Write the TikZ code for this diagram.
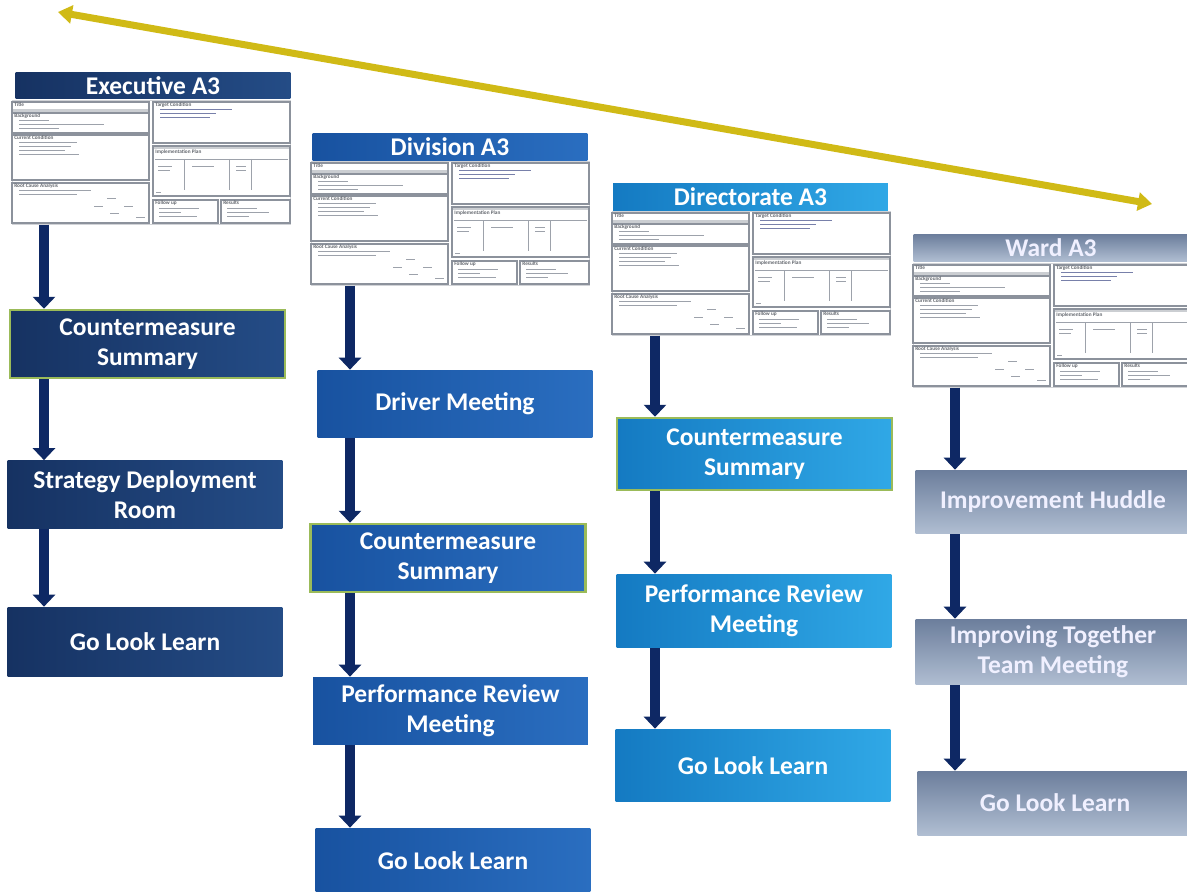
\documentclass[tikz,border=0pt]{standalone}
\usepackage{fontspec}
\setmainfont{Carlito}
\usepackage{tikz}
\usetikzlibrary{arrows.meta}

\definecolor{execblue}{RGB}{22,50,98}
\definecolor{execblue2}{RGB}{36,76,134}
\definecolor{divblue}{RGB}{24,82,160}
\definecolor{divblue2}{RGB}{42,110,192}
\definecolor{dirblue}{RGB}{20,122,194}
\definecolor{dirblue2}{RGB}{48,168,230}
\definecolor{wardgrey}{RGB}{108,126,156}
\definecolor{wardgrey2}{RGB}{176,190,210}
\definecolor{navy}{RGB}{14,40,100}
\definecolor{cmgreen}{RGB}{155,187,89}
\definecolor{spangold}{RGB}{208,186,22}
\definecolor{a3grey}{RGB}{140,146,156}
\definecolor{a3ink}{RGB}{120,128,170}

% A3 thumbnail: #1 = node name, (#2,#3) = top left corner
\newcommand{\athree}[3]{%
  \begin{scope}[shift={(#2,#3)}]
    \node[a3frame, anchor=north west] (#1) at (0,0) {};
    % left column
    \draw[a3panel] (0,2) rectangle (137,13);
    \fill[a3grey!45] (1,9) rectangle (136,12.4);
    \node[a3head] at (2,5) {Title};
    \draw[a3panel] (0,13) rectangle (137,33);
    \node[a3head] at (2,16) {Background};
    \foreach \y/\l in {20/30,24/85,28/40} \draw[a3line] (7,\y) -- ++(\l,0);
    \draw[a3panel] (0,35) rectangle (137,80);
    \node[a3head] at (2,38) {Current Condition};
    \foreach \y/\l in {42/58,46/52,50/46,54/60} \draw[a3line] (7,\y) -- ++(\l,0);
    \draw[a3panel] (0,83) rectangle (137,123);
    \node[a3head] at (2,86) {Root Cause Analysis};
    \foreach \y/\l in {90/72,94/58} \draw[a3line] (7,\y) -- ++(\l,0);
    \foreach \x/\y in {95/98,82/106,112/106,98/113,124/117} \draw[a3line] (\x,\y) -- ++(9,0);
    % right column
    \draw[a3panel] (141,2) rectangle (278,43);
    \node[a3head] at (143,5) {Target Condition};
    \foreach \y/\l in {9/72,13/56,17/50} \draw[a3line, a3ink] (148,\y) -- ++(\l,0);
    \draw[a3panel] (141,46) rectangle (278,96);
    \fill[a3grey!45] (142,47) rectangle (277,49);
    \node[a3head] at (143,52) {Implementation Plan};
    \draw[a3line] (143,59) -- (276,59);
    \foreach \x in {172,217,239} \draw[a3line] (\x,59) -- (\x,90);
    \foreach \x/\l in {146/14,180/22,224/10} \draw[a3line] (\x,66) -- ++(\l,0);
    \foreach \x/\l in {146/12,224/10} \draw[a3line] (\x,70) -- ++(\l,0);
    \draw[a3line] (144,92) -- ++(5,0);
    \draw[a3panel] (141,100) rectangle (206,123);
    \node[a3head] at (143,103) {Follow up};
    \foreach \y/\l in {108/40,112/22,116/38} \draw[a3line] (147,\y) -- ++(\l,0);
    \draw[a3panel] (209,100) rectangle (278,123);
    \node[a3head] at (211,103) {Results};
    \foreach \y/\l in {108/30,112/42,116/22} \draw[a3line] (215,\y) -- ++(\l,0);
  \end{scope}}

\begin{document}
\begin{tikzpicture}[x=0.02cm, y=-0.02cm,
    box/.style={rectangle, inner sep=0pt, minimum width=5.5cm, minimum height=1.36cm,
      align=center, text=white, font=\bfseries\fontsize{14.5}{17}\selectfont},
    headbox/.style={rectangle, inner sep=0pt, minimum width=5.5cm, minimum height=0.54cm,
      text=white, font=\bfseries\fontsize{14.5}{17}\selectfont},
    exec/.style={left color=execblue, right color=execblue2},
    div/.style={left color=divblue, right color=divblue2},
    dir/.style={left color=dirblue, right color=dirblue2},
    ward/.style={top color=wardgrey, bottom color=wardgrey2, text=white!94!blue},
    greenedge/.style={draw=cmgreen, line width=1.4pt},
    flow/.style={draw=navy, line width=0.2cm, -{Triangle[width=0.44cm, length=0.24cm]}},
    span/.style={draw=spangold, line width=0.14cm,
      {Triangle[width=0.36cm, length=0.28cm]}-{Triangle[width=0.36cm, length=0.28cm]}},
    a3frame/.style={rectangle, inner sep=0pt, minimum width=5.56cm, minimum height=2.48cm, draw=a3grey!40, line width=0.3pt},
    a3panel/.style={draw=a3grey, line width=0.7pt},
    a3line/.style={draw=a3grey!85, line width=0.45pt},
    a3head/.style={anchor=west, inner sep=0pt, text=a3grey!70!black, font=\bfseries\fontsize{3}{3}\selectfont}]

  \useasboundingbox[fill=white] (0,0) rectangle (1187,892);

  % Executive
  \node[headbox, exec] (h1) at (153,85.5) {Executive A3};
  \athree{t1}{12}{100}
  \node[box, exec, greenedge] (e1) at (147.5,344) {Countermeasure\\Summary};
  \node[box, exec] (e2) at (145,494.5) {Strategy Deployment\\Room};
  \node[box, exec, minimum height=1.4cm] (e3) at (145,642) {Go Look Learn};

  % Division
  \node[headbox, div] (h2) at (450,147) {Division A3};
  \athree{t2}{311}{161}
  \node[box, div] (d1) at (455,404) {Driver Meeting};
  \node[box, div, greenedge] (d2) at (448,558) {Countermeasure\\Summary};
  \node[box, div] (d3) at (450.5,711) {Performance Review\\Meeting};
  \node[box, div, minimum height=1.3cm] (d4) at (453,860.5) {Go Look Learn};

  % Directorate
  \node[headbox, dir] (h3) at (750.5,197) {Directorate A3};
  \athree{t3}{612}{211}
  \node[box, dir, greenedge, minimum height=1.44cm] (r1) at (754.5,454) {Countermeasure\\Summary};
  \node[box, dir, minimum height=1.48cm] (r2) at (754,611) {Performance Review\\Meeting};
  \node[box, dir, minimum height=1.46cm] (r3) at (753,765.5) {Go Look Learn};

  % Ward
  \node[headbox, ward] (h4) at (1051,248) {Ward A3};
  \athree{t4}{913}{263}
  \node[box, ward, minimum height=1.28cm] (w1) at (1053,502) {Improvement Huddle};
  \node[box, ward, minimum height=1.32cm] (w2) at (1053,652) {Improving Together\\Team Meeting};
  \node[box, ward, minimum height=1.28cm] (w3) at (1055,803) {Go Look Learn};

  % Flow arrows
  \coordinate (c1) at (44,0);
  \coordinate (c2) at (350,0);
  \coordinate (c3) at (655,0);
  \coordinate (c4) at (955,0);
  \draw[flow] (t1.south -| c1) -- (e1.north -| c1);
  \draw[flow] (e1.south -| c1) -- (e2.north -| c1);
  \draw[flow] (e2.south -| c1) -- (e3.north -| c1);
  \draw[flow] (t2.south -| c2) -- (d1.north -| c2);
  \draw[flow] (d1.south -| c2) -- (d2.north -| c2);
  \draw[flow] (d2.south -| c2) -- (d3.north -| c2);
  \draw[flow] (d3.south -| c2) -- (d4.north -| c2);
  \draw[flow] (t3.south -| c3) -- (r1.north -| c3);
  \draw[flow] (r1.south -| c3) -- (r2.north -| c3);
  \draw[flow] (r2.south -| c3) -- (r3.north -| c3);
  \draw[flow] (t4.south -| c4) -- (w1.north -| c4);
  \draw[flow] (w1.south -| c4) -- (w2.north -| c4);
  \draw[flow] (w2.south -| c4) -- (w3.north -| c4);

  % Span across the levels
  \coordinate (top) at (58,12);
  \coordinate (bottom) at (1152,204);
  \draw[span] (top) -- (bottom);
\end{tikzpicture}
\end{document}
